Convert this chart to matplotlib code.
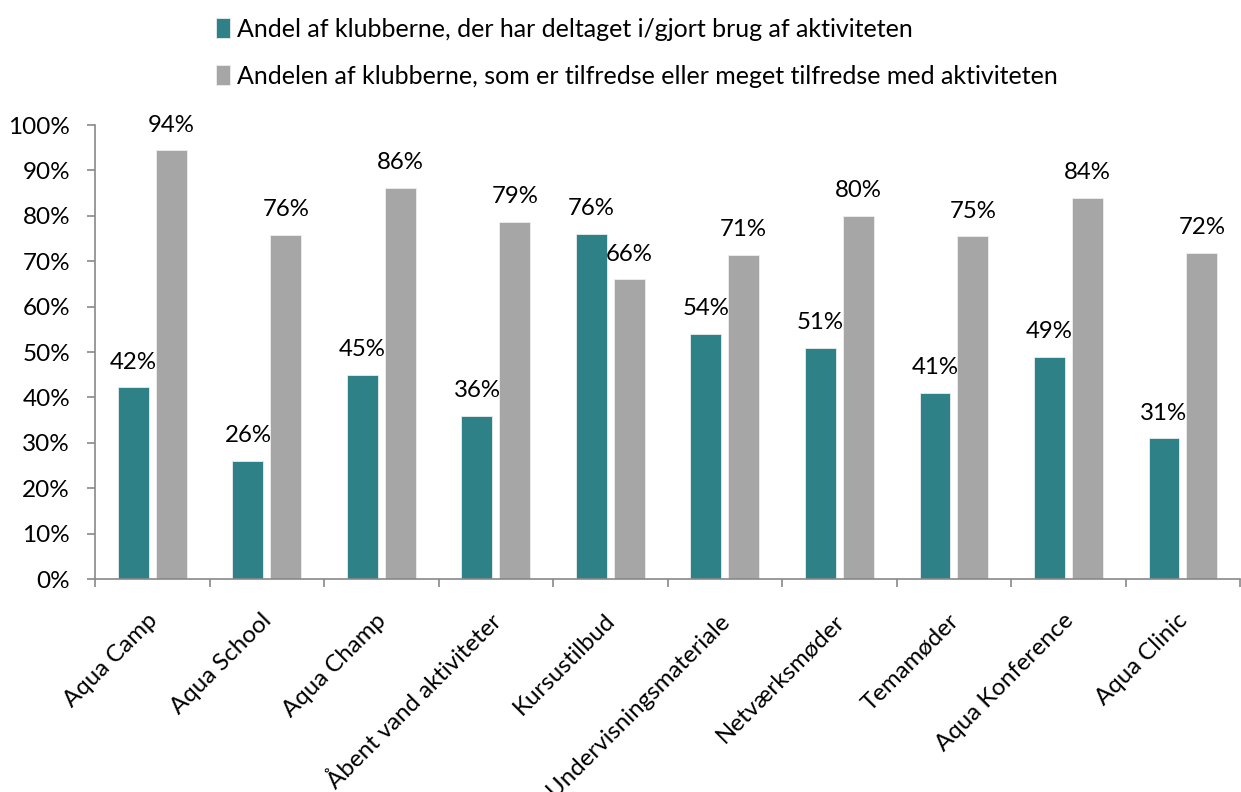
import numpy as np
import matplotlib.pyplot as plt
import matplotlib.transforms as mtransforms

plt.rcParams['font.family'] = ['Lato', 'DejaVu Sans']

categories = ["Aqua Camp", "Aqua School", "Aqua Champ", "Åbent vand aktiviteter",
              "Kursustilbud", "Undervisningsmateriale", "Netværksmøder",
              "Temamøder", "Aqua Konference", "Aqua Clinic"]
deltaget = [42.2, 26.0, 45.0, 36.0, 76.0, 54.0, 51.0, 41.0, 49.0, 31.0]
tilfredse = [94.4, 75.8, 86.2, 78.7, 66.0, 71.4, 80.0, 75.5, 84.0, 71.8]
labels_deltaget = ["42%", "26%", "45%", "36%", "76%", "54%", "51%", "41%", "49%", "31%"]
labels_tilfredse = ["94%", "76%", "86%", "79%", "66%", "71%", "80%", "75%", "84%", "72%"]
series_names = ["Andel af klubberne, der har deltaget i/gjort brug af aktiviteten",
                "Andelen af klubberne, som er tilfredse eller meget tilfredse med aktiviteten"]

teal = "#2e8187"
grey = "#a6a6a6"
fs = 17.3

fig = plt.figure(figsize=(12.41, 7.92), dpi=100)
ax = fig.add_axes([0.0766, 0.2689, 0.9227, 0.5732])

x = np.arange(len(categories))
w = 0.27
b1 = ax.bar(x - 0.165, deltaget, w, color=teal, edgecolor="#e8eeee", linewidth=0.6, label=series_names[0])
b2 = ax.bar(x + 0.165, tilfredse, w, color=grey, edgecolor="#eeeeee", linewidth=0.6, label=series_names[1])

for bars, labs in ((b1, labels_deltaget), (b2, labels_tilfredse)):
    for r, t in zip(bars, labs):
        ax.annotate(t, (r.get_x() + r.get_width() / 2, r.get_height()),
                    xytext=(0, 10.5), textcoords="offset points",
                    ha="center", va="bottom", fontsize=fs, color="black")

ax.set_xlim(-0.5, len(categories) - 0.5)
ax.set_ylim(0, 100)
ax.set_yticks(np.arange(0, 101, 10))
ax.set_yticklabels([f"{v}%" for v in range(0, 101, 10)], fontsize=17.5)

# category labels drawn as text so they can be nudged like Excel places them
ax.set_xticks(np.arange(-0.5, len(categories), 1.0))
ax.set_xticklabels([])
ax.tick_params(axis="x", length=6, color="#898989", width=1.2)
lab_tr = ax.get_xaxis_transform() + mtransforms.ScaledTranslation(-6 / 100, -31 / 100, fig.dpi_scale_trans)
for i, c in enumerate(categories):
    ax.text(x[i], 0, c, transform=lab_tr, rotation=45, ha="right", va="top",
            rotation_mode="anchor", fontsize=fs)

ax.tick_params(axis="y", length=6, color="#898989", width=1.2, pad=12)

for s in ("top", "right"):
    ax.spines[s].set_visible(False)
for s in ("left", "bottom"):
    ax.spines[s].set_color("#898989")
    ax.spines[s].set_linewidth(1.2)

fig.legend(handles=[b1, b2], loc="upper left", bbox_to_anchor=(0.166, 0.99),
           ncol=1, frameon=False, fontsize=18, handlelength=0.55, handleheight=0.85,
           handletextpad=0.3, labelspacing=0.95, borderaxespad=0)

fig.savefig("out.png", dpi=100)
